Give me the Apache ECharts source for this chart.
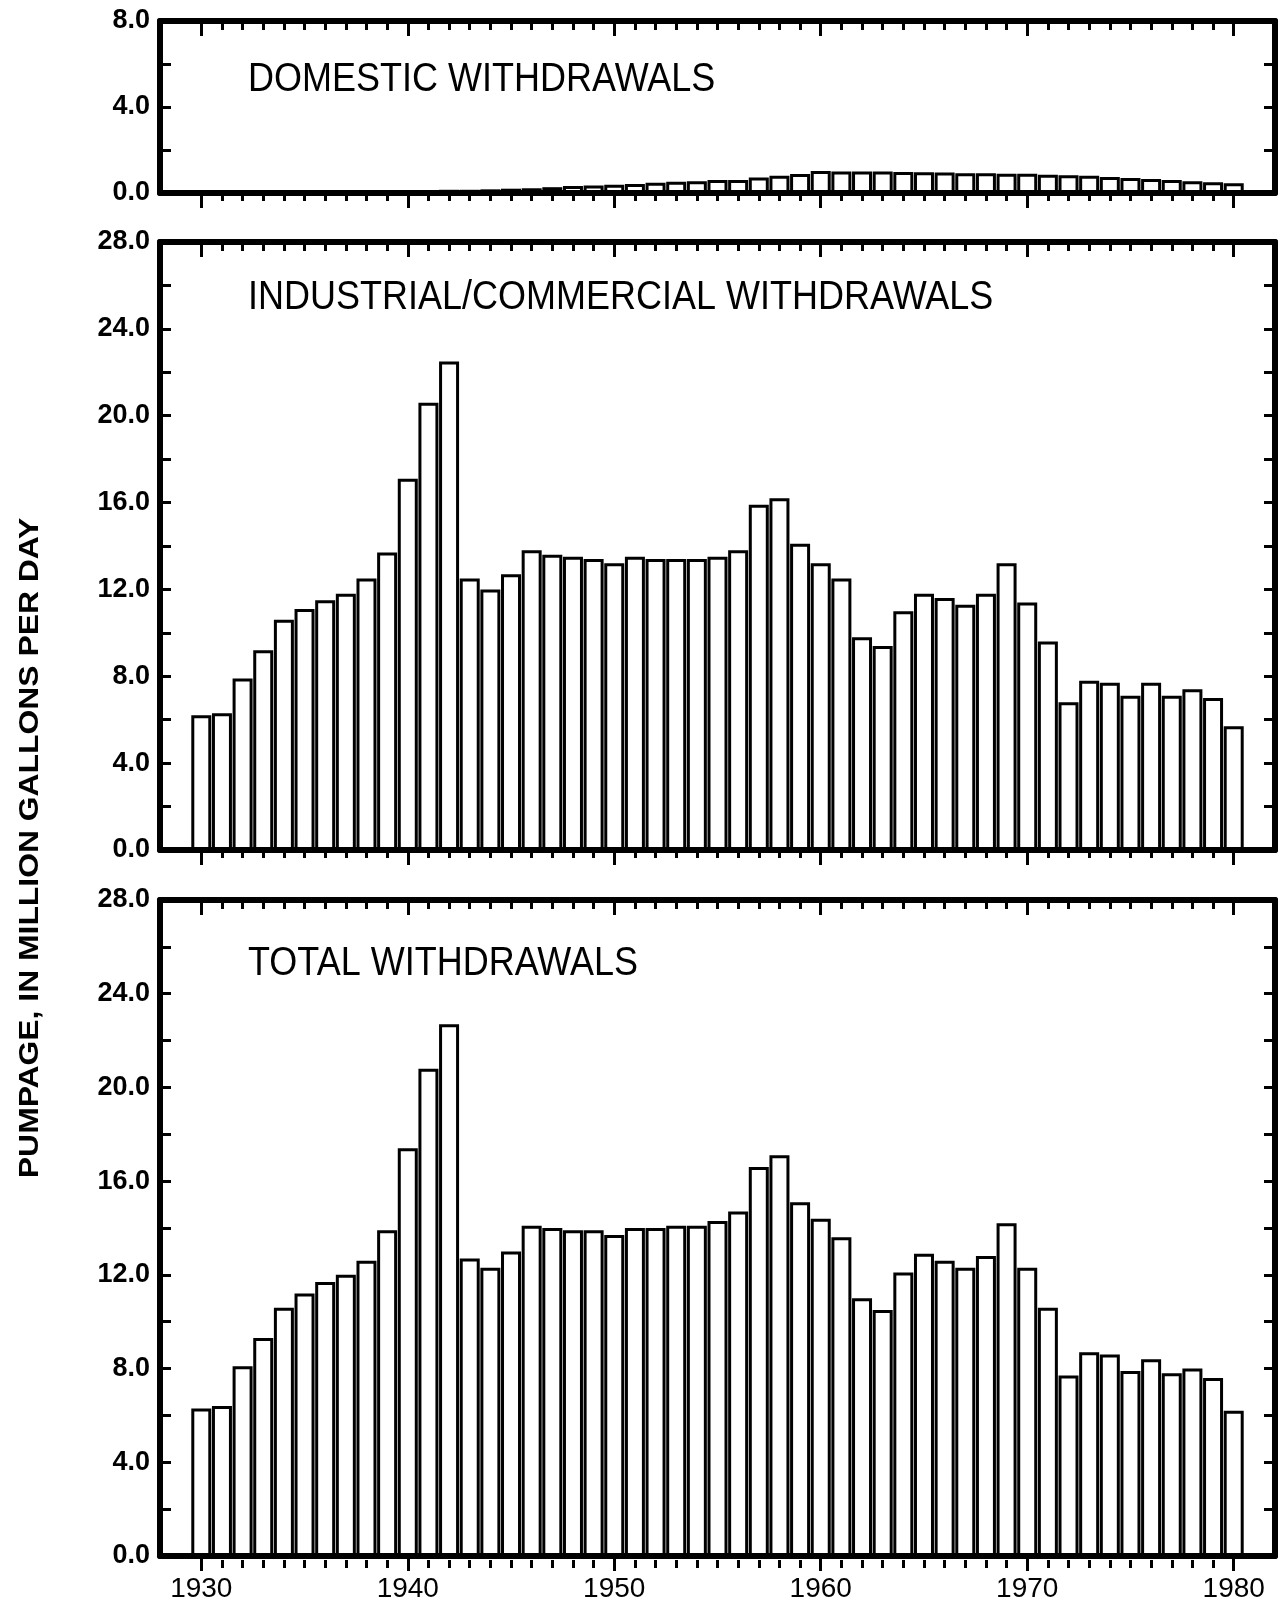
<!DOCTYPE html>
<html><head><meta charset="utf-8">
<script src="https://cdn.jsdelivr.net/npm/echarts@6/dist/echarts.min.js"></script>
<style>html,body{margin:0;padding:0;background:#fff}#c{width:1288px;height:1603px}</style>
</head><body><div id="c"></div>
<script>
const years = [1930,1931,1932,1933,1934,1935,1936,1937,1938,1939,
  1940,1941,1942,1943,1944,1945,1946,1947,1948,1949,
  1950,1951,1952,1953,1954,1955,1956,1957,1958,1959,
  1960,1961,1962,1963,1964,1965,1966,1967,1968,1969,
  1970,1971,1972,1973,1974,1975,1976,1977,1978,1979,1980];
const domestic = [0.05,0.05,0.05,0.05,0.05,0.05,0.05,0.05,0.05,0.07,
  0.1,0.12,0.15,0.15,0.17,0.2,0.22,0.27,0.32,0.35,
  0.38,0.42,0.48,0.52,0.55,0.6,0.6,0.72,0.8,0.88,
  1.02,1.0,1.0,1.0,0.98,0.97,0.95,0.92,0.92,0.9,
  0.9,0.85,0.82,0.8,0.75,0.7,0.65,0.6,0.55,0.5,0.45];
const industrial = [6.2,6.3,7.9,9.2,10.6,11.1,11.5,11.8,12.5,13.7,
  17.1,20.6,22.5,12.5,12.0,12.7,13.8,13.6,13.5,13.4,
  13.2,13.5,13.4,13.4,13.4,13.5,13.8,15.9,16.2,14.1,
  13.2,12.5,9.8,9.4,11.0,11.8,11.6,11.3,11.8,13.2,
  11.4,9.6,6.8,7.8,7.7,7.1,7.7,7.1,7.4,7.0,5.7];
const total = [6.3,6.4,8.1,9.3,10.6,11.2,11.7,12.0,12.6,13.9,
  17.4,20.8,22.7,12.7,12.3,13.0,14.1,14.0,13.9,13.9,
  13.7,14.0,14.0,14.1,14.1,14.3,14.7,16.6,17.1,15.1,
  14.4,13.6,11.0,10.5,12.1,12.9,12.6,12.3,12.8,14.2,
  12.3,10.6,7.7,8.7,8.6,7.9,8.4,7.8,8.0,7.6,6.2];
const decadeLabels = [1930,1940,1950,1960,1970,1980];
const yLabelsSmall = [0,4,8];
const yLabelsLarge = [0,4,8,12,16,20,24,28];
const yMax = [8,28,28];
const panelTitles = ['DOMESTIC WITHDRAWALS','INDUSTRIAL/COMMERCIAL WITHDRAWALS','TOTAL WITHDRAWALS'];
const yAxisTitle = 'PUMPAGE, IN MILLION GALLONS PER DAY';

const panelRects = [
  {left:160, right:13, top:21, height:172},
  {left:160, right:13, top:242, height:608},
  {left:160, right:13, top:900, height:660}
];
const titleY = [80, 298, 964];
const black = '#000';
const lineW = 6;

const grid = [];
const xAxis = [];
const yAxis = [];
panelRects.forEach((r, gi) => {
  const gMain = grid.length; grid.push({...r});
  const gMinor = grid.length; grid.push({...r});
  const showLbl = gi === 2;
  const xb = {type:'value', min:1928, max:1982, splitLine:{show:false}, z:5};
  xAxis.push({...xb, gridIndex:gMain, position:'bottom',
    axisLine:{show:true, onZero:false, lineStyle:{color:black, width:lineW}},
    axisTick:{show:true, customValues:decadeLabels, length:15, inside:false, lineStyle:{color:black, width:3}},
    axisLabel:{show:showLbl, customValues:decadeLabels, margin:19, color:black, fontSize:28,
      fontFamily:'Liberation Sans', formatter:v => String(v)}});
  xAxis.push({...xb, gridIndex:gMain, position:'top',
    axisLine:{show:true, onZero:false, lineStyle:{color:black, width:lineW}},
    axisTick:{show:true, customValues:decadeLabels, length:15, inside:true, lineStyle:{color:black, width:3}},
    axisLabel:{show:false}});
  xAxis.push({...xb, gridIndex:gMinor, position:'bottom',
    axisLine:{show:false, onZero:false},
    axisTick:{show:true, customValues:years, length:8, inside:false, lineStyle:{color:black, width:3}},
    axisLabel:{show:false}});
  xAxis.push({...xb, gridIndex:gMinor, position:'top',
    axisLine:{show:false, onZero:false},
    axisTick:{show:true, customValues:years, length:9, inside:true, lineStyle:{color:black, width:3}},
    axisLabel:{show:false}});
  const yb = {type:'value', min:0, max:yMax[gi], interval:2, splitLine:{show:false}, z:5};
  const yMainL = {...yb, gridIndex:gMain, position:'left',
    axisLine:{show:true, onZero:false, lineStyle:{color:black, width:lineW}},
    axisTick:{show:true, inside:true, length:11, lineStyle:{color:black, width:3}},
    axisLabel:{show:true, customValues: gi === 0 ? yLabelsSmall : yLabelsLarge, margin:10, color:black,
      fontSize:27, fontWeight:'bold', fontFamily:'Liberation Sans', formatter:v => v.toFixed(1)}};
  const yMainR = {...yb, gridIndex:gMain, position:'right',
    axisLine:{show:true, onZero:false, lineStyle:{color:black, width:lineW}},
    axisTick:{show:true, inside:true, length:11, lineStyle:{color:black, width:3}},
    axisLabel:{show:false}};
  yAxis.push(yMainL, yMainR,
    {...yb, gridIndex:gMinor, show:false});
});

const seriesData = [domestic, industrial, total];
const series = seriesData.map((arr, gi) => ({
  type:'bar', xAxisIndex: gi*4, yAxisIndex: gi*3,
  data: years.map((y, i) => [y, arr[i]]),
  barWidth: 20,
  itemStyle:{color:'#fff', borderColor:black, borderWidth:3},
  silent:true
}));

const graphic = panelTitles.map((t, i) => ({
  type:'text', x:248, y:titleY[i], scaleY:1.15,
  style:{text:t, fill:black, font:'36px "Liberation Sans"', verticalAlign:'middle', align:'left'}
}));
graphic.push({type:'text', x:31, y:848, rotation:Math.PI/2, scaleX:1.18,
  style:{text:yAxisTitle, fill:black, font:'bold 27px "Liberation Sans"', align:'center', verticalAlign:'middle'}});

const chart = echarts.init(document.getElementById('c'), null, {renderer:'canvas'});
chart.setOption({animation:false, backgroundColor:'#fff', grid, xAxis, yAxis, series, graphic});
</script></body></html>
